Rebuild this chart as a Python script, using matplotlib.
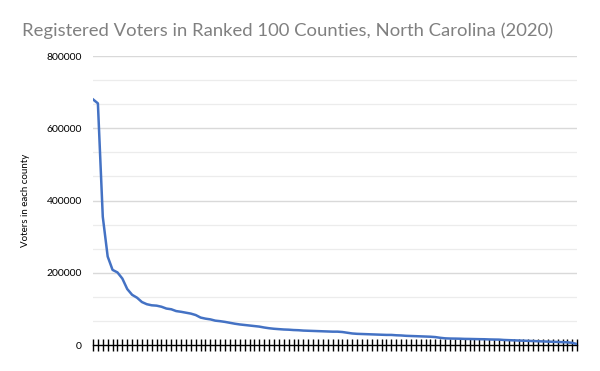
import numpy as np
from matplotlib import pyplot as plt

# ranked counties (1..100) and registered voters
rank = np.arange(1, 101)
voters = [680000, 669000, 355000, 245000, 208000, 201000, 184000, 155000, 139000, 131000,
          119000, 113000, 110000, 109000, 106000, 101000, 99000, 94000, 92000, 89500,
          87000, 83000, 76000, 73000, 71000, 67500, 66000, 64000, 61500, 59000,
          57000, 55500, 54000, 52500, 51000, 48500, 46500, 45000, 44000, 43000,
          42500, 41500, 41000, 40000, 39500, 39000, 38500, 38000, 37500, 37000,
          37000, 36000, 34000, 32000, 31000, 30500, 30000, 29500, 29000, 28500,
          28000, 28000, 27000, 26500, 25500, 25000, 24500, 24000, 23500, 23000,
          22000, 20000, 18500, 18000, 17800, 17500, 17000, 16800, 16500, 16200,
          16000, 15500, 15200, 15000, 14000, 13500, 13000, 12500, 12000, 11500,
          11000, 10500, 10000, 9500, 9000, 8500, 8000, 7500, 6000, 2500]
yticks = [0, 200000, 400000, 600000, 800000]
title = 'Registered Voters in Ranked 100 Counties, North Carolina (2020)'

plt.rcParams['font.family'] = ['Lato', 'DejaVu Sans']

fig = plt.figure(figsize=(6, 3.71), dpi=100)
ax = fig.add_axes([0.155, 0.070, 0.807, 0.779])

# grid: major every 200000, lighter minor every third of that
for v in np.arange(0, 800001, 200000 / 3):
    major = abs(v / 200000 - round(v / 200000)) < 1e-6
    if v == 0:
        continue
    ax.axhline(v, color='#d9d9d9' if major else '#ececec', lw=1.0 if major else 0.9, zorder=0)

ax.plot(rank, voters, color='#4472C4', lw=1.8, zorder=3)

ax.set_xlim(1, 100)
ax.set_ylim(0, 800000)
ax.set_yticks(yticks)
ax.set_yticklabels([str(v) for v in yticks], fontsize=7.5)
ax.tick_params(axis='y', length=0, pad=8)
ax.set_xticks(rank)
ax.set_xticklabels([])
ax.tick_params(axis='x', direction='inout', length=9, width=1, color='black')

for s in ['top', 'right', 'left']:
    ax.spines[s].set_visible(False)
ax.spines['bottom'].set_color('black')
ax.spines['bottom'].set_linewidth(1)

ax.set_ylabel('Voters in each county', fontsize=7, labelpad=12)
fig.text(0.48, 0.918, title, ha='center', va='center', fontsize=13.3, color='#808080')

plt.savefig('out.png', dpi=100)
plt.close()
